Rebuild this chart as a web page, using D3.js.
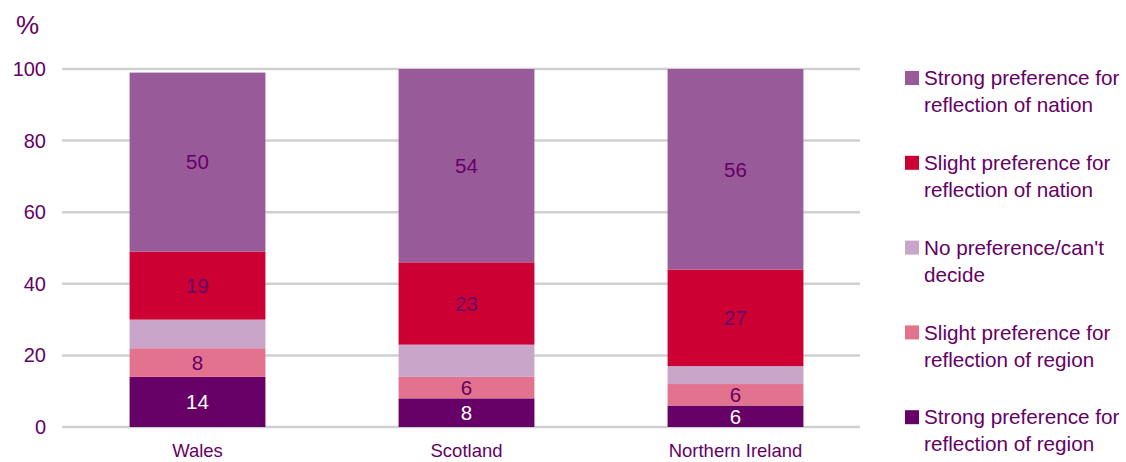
<!DOCTYPE html>
<html><head><meta charset="utf-8">
<script src="https://cdn.jsdelivr.net/npm/d3@7"></script>
<style>body{margin:0;background:#fff;} svg{display:block;font-family:"Liberation Sans",Arial,sans-serif;}</style>
</head><body>
<svg id="c" width="1126" height="462"></svg>
<script>
const categories = ["Wales", "Scotland", "Northern Ireland"];
const seriesNames = ["Strong preference for reflection of region", "Slight preference for reflection of region", "No preference/can't decide", "Slight preference for reflection of nation", "Strong preference for reflection of nation"];
const strongRegion = [14, 8, 6];
const slightRegion = [8, 6, 6];
const noPref = [8, 9, 5];
const slightNation = [19, 23, 27];
const strongNation = [50, 54, 56];
const showLabel = [true, true, false, true, true];
const yTicks = [0, 20, 40, 60, 80, 100];
const legendLines = [["Strong preference for", "reflection of nation"], ["Slight preference for", "reflection of nation"], ["No preference/can't", "decide"], ["Slight preference for", "reflection of region"], ["Strong preference for", "reflection of region"]];

const colors = ["#660066", "#E2728D", "#C9A5C9", "#CC0033", "#995A9A"];
const labelColors = ["#ffffff", "#660066", "#660066", "#660066", "#660066"];
const txt = "#660066";

const seriesVals = [strongRegion, slightRegion, noPref, slightNation, strongNation];
const rows = categories.map((c, i) => {
  const o = {cat: c};
  seriesNames.forEach((s, j) => o[s] = seriesVals[j][i]);
  return o;
});
const stack = d3.stack().keys(seriesNames)(rows);

const svg = d3.select("#c");
const x = d3.scaleBand().domain(categories).range([63, 870]).paddingInner(0.495).paddingOuter(0.2475);
const y = d3.scaleLinear().domain([0, 100]).range([427, 69]);

svg.append("g").selectAll("line").data(yTicks).join("line")
  .attr("x1", 62).attr("x2", 860)
  .attr("y1", d => y(d)).attr("y2", d => y(d))
  .attr("stroke", "#D0D0D0").attr("stroke-width", 2.5);

svg.append("g").selectAll("text").data(yTicks).join("text")
  .attr("x", 46).attr("y", d => y(d)).attr("dy", "0.35em")
  .attr("text-anchor", "end").attr("font-size", 20).attr("fill", txt)
  .text(d => d);

svg.append("text").attr("x", 16).attr("y", 34).attr("font-size", 26).attr("fill", txt).text("%");

const g = svg.append("g");
stack.forEach((layer, j) => {
  g.append("g").selectAll("rect").data(layer).join("rect")
    .attr("x", d => x(d.data.cat))
    .attr("width", x.bandwidth())
    .attr("y", d => y(d[1]))
    .attr("height", d => y(d[0]) - y(d[1]))
    .attr("fill", colors[j]);
  if (showLabel[j]) {
    g.append("g").selectAll("text").data(layer).join("text")
      .attr("x", d => x(d.data.cat) + x.bandwidth() / 2)
      .attr("y", d => (y(d[0]) + y(d[1])) / 2)
      .attr("dy", "0.36em")
      .attr("text-anchor", "middle").attr("font-size", 20.5)
      .attr("fill", labelColors[j])
      .text(d => d[1] - d[0]);
  }
});

svg.append("g").selectAll("text").data(categories).join("text")
  .attr("x", d => x(d) + x.bandwidth() / 2).attr("y", 457)
  .attr("text-anchor", "middle").attr("font-size", 18.5).attr("fill", txt)
  .text(d => d);

const legOrder = [4, 3, 2, 1, 0];
const lg = svg.append("g");
legOrder.forEach((si, k) => {
  const yy = 78 + k * 84.8;
  lg.append("rect").attr("x", 905).attr("y", yy - 7).attr("width", 14).attr("height", 14).attr("fill", colors[si]);
  legendLines[k].forEach((line, li) => {
    lg.append("text").attr("x", 924).attr("y", yy + li * 27).attr("dy", "0.35em")
      .attr("font-size", 20.7).attr("fill", txt).text(line);
  });
});
</script>
</body></html>
